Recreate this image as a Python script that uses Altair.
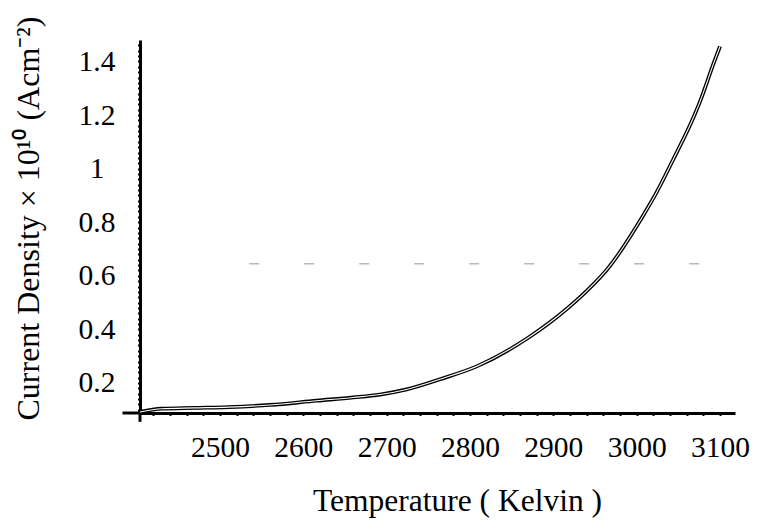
import altair as alt
import pandas as pd

# Curve
temperature = [2404, 2430, 2470, 2510, 2560, 2616, 2660, 2692, 2724, 2764, 2808, 2868,
               2916, 2948, 2964, 3008, 3024, 3044, 3068, 3076, 3092, 3100]
current = [0.092, 0.104, 0.107, 0.110, 0.118, 0.134, 0.146, 0.157, 0.176, 0.214, 0.262, 0.365,
           0.476, 0.568, 0.622, 0.826, 0.912, 1.035, 1.190, 1.250, 1.390, 1.456]

x_domain = [2404, 3118]
y_domain = [0.088, 1.48]
x_ticks = list(range(2420, 3101, 20))
y_ticks = [round(0.1 + 0.02 * k, 2) for k in range(0, 69)]

# axis extensions (Mathematica-style crossing axes)
x_axis_start = 2383
y_axis_bottom = 0.055
artifact_y = 0.645
artifact_x = [2535, 3088]

df = pd.DataFrame({"T": temperature, "J": current})

FONT = "Liberation Serif"

xs = alt.Scale(domain=x_domain, nice=False, zero=False)
ys = alt.Scale(domain=y_domain, nice=False, zero=False)

x_axis = alt.Axis(
    values=x_ticks,
    tickCount=200,
    labelExpr="datum.value % 100 == 0 ? datum.label : ''",
    format="d",
    title="Temperature ( Kelvin )",
    titleFont=FONT, titleFontSize=31.5, titleFontWeight="normal", titleColor="black",
    titleX=317, titleY=97, titleBaseline="alphabetic",
    titleAlign="center",
    labelFont=FONT, labelFontSize=29.5, labelColor="black", labelPadding=18,
    labelFlush=False, labelOverlap=False,
    domainColor="black", domainWidth=3,
    tickColor="black", tickSize=2.5, tickWidth=2,
    grid=False,
)

y_axis = alt.Axis(
    values=y_ticks,
    tickCount=200,
    format="~g",
    labelExpr="abs(datum.value*5 - round(datum.value*5)) < 0.001 ? datum.label : ''",
    title="Current Density × 10¹⁰ (Acm⁻²)",
    titleFont=FONT, titleFontSize=32, titleFontWeight="normal", titleColor="black",
    titleAngle=270, titleX=-102, titleY=178, titleBaseline="alphabetic",
    titleAlign="center",
    labelFont=FONT, labelFontSize=29.5, labelColor="black",
    labelAlign="center", labelBaseline="middle", labelPadding=41,
    labelFlush=False, labelOverlap=False,
    domainColor="black", domainWidth=3,
    tickColor="black", tickSize=2.5, tickWidth=2,
    grid=False,
)

base = alt.Chart(df)

outer = base.mark_line(color="black", strokeWidth=3.8, interpolate="monotone").encode(
    x=alt.X("T:Q", scale=xs, axis=x_axis),
    y=alt.Y("J:Q", scale=ys, axis=y_axis),
)
inner = base.mark_line(color="white", strokeWidth=1.1, interpolate="monotone").encode(
    x=alt.X("T:Q", scale=xs),
    y=alt.Y("J:Q", scale=ys),
)

ext_df = pd.DataFrame({"x0": [x_axis_start], "x1": [x_domain[0]], "y0": [y_domain[0]],
                       "yb": [y_axis_bottom]})
x_ext = alt.Chart(ext_df).mark_rule(color="black", strokeWidth=3).encode(
    x=alt.X("x0:Q", scale=xs), x2="x1:Q", y=alt.Y("y0:Q", scale=ys)
)
y_ext = alt.Chart(ext_df).mark_rule(color="black", strokeWidth=3).encode(
    x=alt.X("x1:Q", scale=xs), y=alt.Y("y0:Q", scale=ys), y2="yb:Q"
)

art_df = pd.DataFrame({"a": [artifact_x[0]], "b": [artifact_x[1]], "y": [artifact_y]})
artifact = alt.Chart(art_df).mark_rule(color="#8a8a8a", strokeWidth=1.5,
                                       strokeDash=[10, 45], opacity=0.6).encode(
    x=alt.X("a:Q", scale=xs), x2="b:Q", y=alt.Y("y:Q", scale=ys)
)

chart = alt.layer(artifact, outer, inner, x_ext, y_ext).properties(
    width=595, height=373,
    background="white",
    autosize=alt.AutoSizeParams(type="none"),
    padding={"left": 132, "top": 32, "right": 16, "bottom": 105},
).configure_view(stroke=None)

chart.save("out.html", embed_options={"renderer": "svg", "actions": False})
